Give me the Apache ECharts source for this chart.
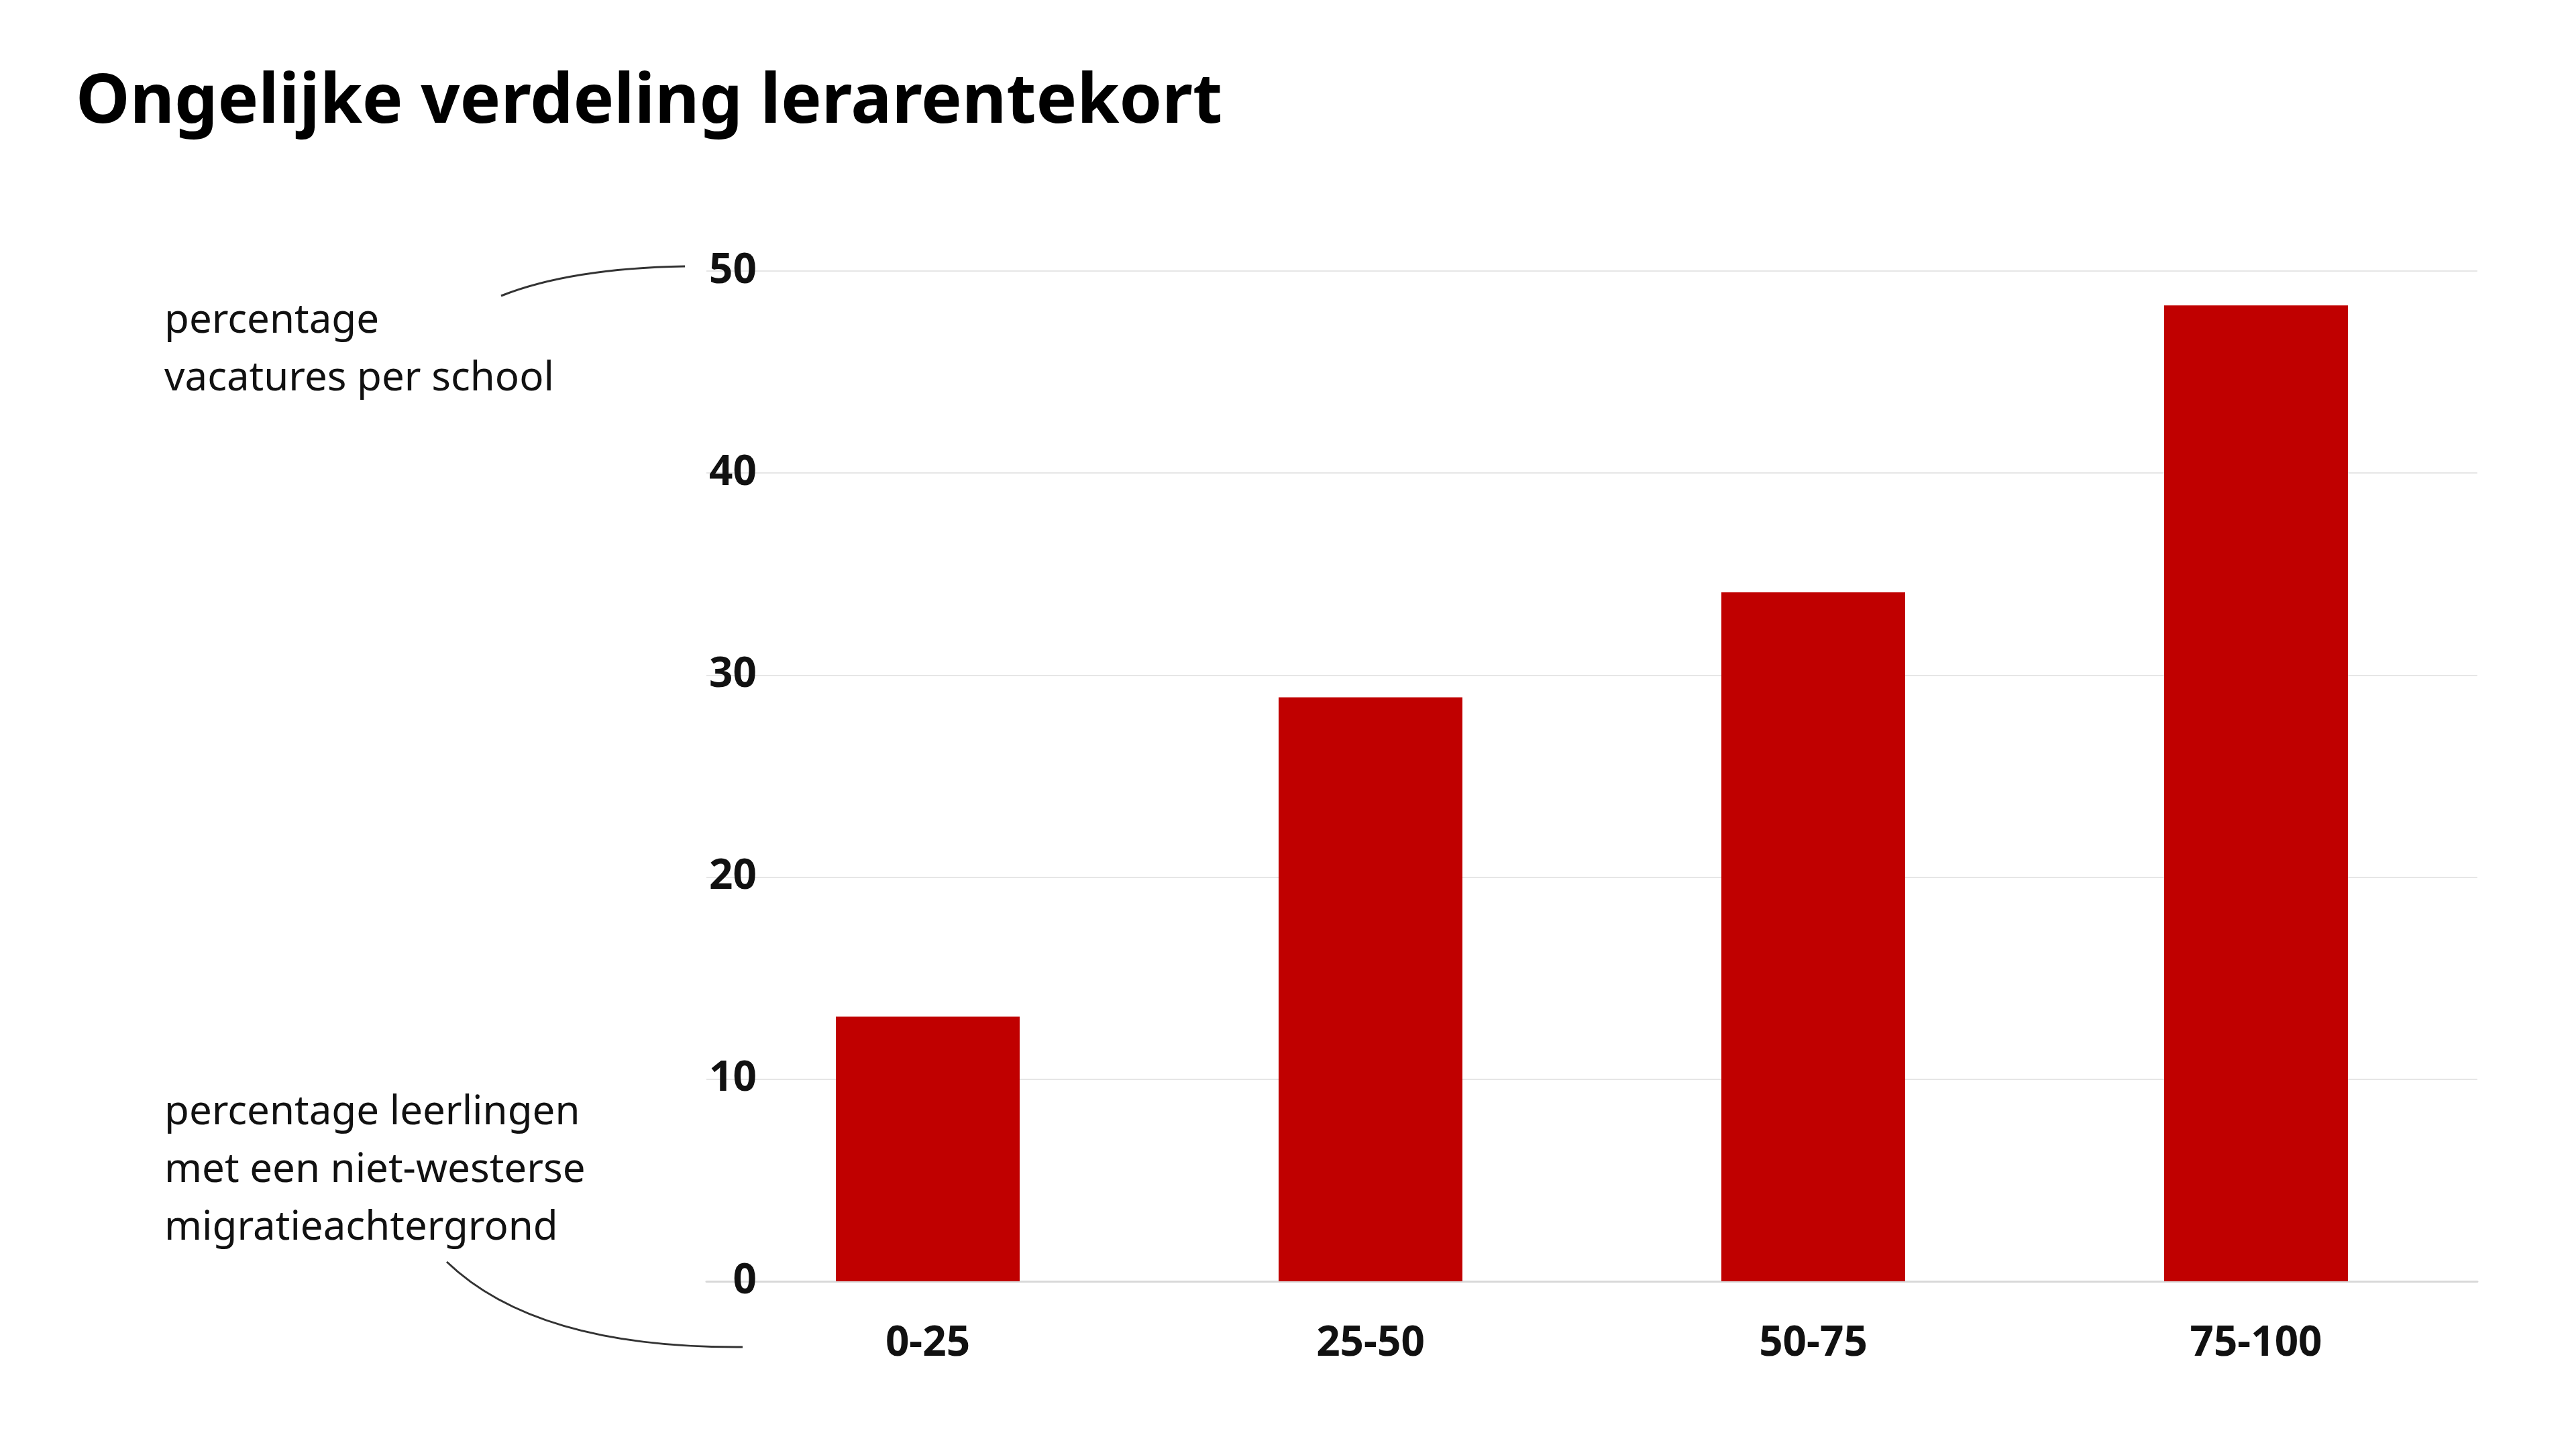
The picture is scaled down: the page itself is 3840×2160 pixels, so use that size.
<!DOCTYPE html>
<html>
<head>
<meta charset="utf-8">
<script src="https://cdn.jsdelivr.net/npm/echarts@6/dist/echarts.min.js"></script>
<style>
html, body { margin: 0; padding: 0; background: #fff; }
#main { width: 3840px; height: 2160px; }
</style>
</head>
<body>
<div id="main"></div>
<script>
// data
var categories = ['0-25', '25-50', '50-75', '75-100'];
var vacatures = [13.1, 28.9, 34.1, 48.3];
var yTicks = { min: 0, max: 50, interval: 10 };

var myChart = echarts.init(document.getElementById('main'));
var font = '"Noto Sans", Lato, sans-serif';

option = {
    backgroundColor: '#fff',
    animation: false,
    title: {
        text: 'Ongelijke verdeling lerarentekort',
        left: 108,
        top: 98,
        textStyle: { fontFamily: font, fontSize: 102, fontWeight: 'bold', color: '#000' }
    },
    grid: { left: 1053, right: 147, top: 404, bottom: 250 },
    xAxis: {
        type: 'category',
        data: categories,
        axisLine: { lineStyle: { color: '#d9d9d9', width: 3 } },
        axisTick: { show: false },
        axisLabel: { fontFamily: font, fontSize: 62, fontWeight: 'bold', color: '#111', margin: 62 }
    },
    yAxis: {
        type: 'value',
        min: yTicks.min,
        max: yTicks.max,
        interval: yTicks.interval,
        axisLine: { show: false },
        axisTick: { show: false },
        splitLine: { lineStyle: { color: '#e6e6e6', width: 2 } },
        axisLabel: { fontFamily: font, fontSize: 62, fontWeight: 'bold', color: '#111', margin: -75 }
    },
    series: [{
        type: 'bar',
        data: vacatures,
        barWidth: 274,
        itemStyle: { color: '#c00000' }
    }],
    graphic: [
        {
            type: 'text', left: 245, top: 436,
            style: { text: 'percentage\nvacatures per school', font: '60px ' + font, fill: '#111', lineHeight: 86 }
        },
        {
            type: 'text', left: 245, top: 1616,
            style: { text: 'percentage leerlingen\nmet een niet-westerse\nmigratieachtergrond', font: '60px ' + font, fill: '#111', lineHeight: 86 }
        },
        {
            type: 'bezierCurve',
            shape: { x1: 747, y1: 441, x2: 1021, y2: 397, cpx1: 850, cpy1: 400 },
            style: { stroke: '#333', lineWidth: 3, fill: null }
        },
        {
            type: 'bezierCurve',
            shape: { x1: 666, y1: 1881, x2: 1107, y2: 2008, cpx1: 800, cpy1: 2010 },
            style: { stroke: '#333', lineWidth: 3, fill: null }
        }
    ]
};

myChart.setOption(option);
</script>
</body>
</html>
